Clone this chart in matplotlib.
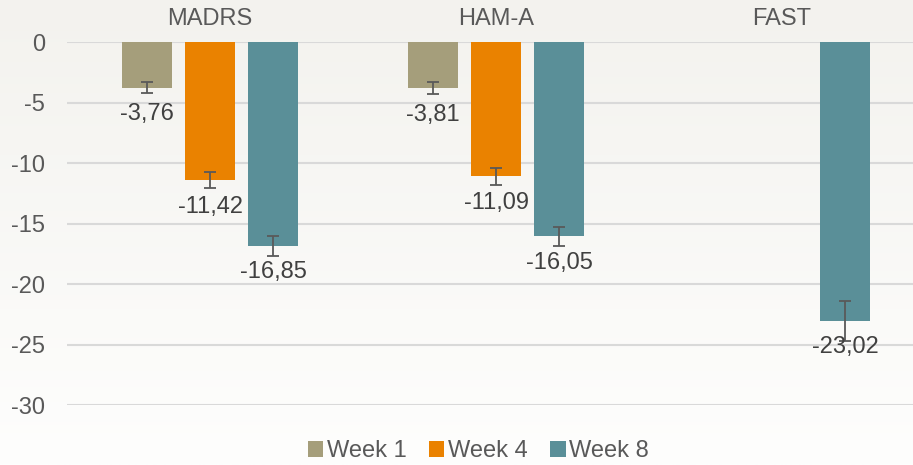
import numpy as np
import matplotlib.pyplot as plt

plt.rcParams['font.family'] = ['Liberation Sans', 'DejaVu Sans']
plt.rcParams['axes.unicode_minus'] = False

scales = ["MADRS", "HAM-A", "FAST"]
weeks = ["Week 1", "Week 4", "Week 8"]
# change from baseline, nan where not measured
means = {
    "Week 1": [-3.76, -3.81, np.nan],
    "Week 4": [-11.42, -11.09, np.nan],
    "Week 8": [-16.85, -16.05, -23.02],
}
errors = {
    "Week 1": [0.45, 0.5, np.nan],
    "Week 4": [0.65, 0.7, np.nan],
    "Week 8": [0.8, 0.8, 1.65],
}
colors = ["#a59e7b", "#ea8200", "#5a8f98"]

fig = plt.figure(figsize=(9.13, 4.65), dpi=100)

# soft background gradient, greyish at top to white at bottom
bg = fig.add_axes([0, 0, 1, 1], zorder=-10)
grad = np.linspace(0, 1, 256).reshape(-1, 1)
top = np.array([243, 242, 238]) / 255
bottom = np.array([254, 254, 253]) / 255
img = top + (bottom - top) * grad[..., None]
bg.imshow(np.repeat(img, 2, axis=1), aspect="auto", extent=[0, 1, 0, 1])
bg.axis("off")

ax = fig.add_axes([0.0734, 0.129, 0.9398, 0.7806])
ax.patch.set_alpha(0)

x = np.arange(len(scales))
width = 0.175
step = 0.22
for i, wk in enumerate(weeks):
    pos = x + (i - 1) * step
    vals = np.array(means[wk])
    errs = np.array(errors[wk])
    ax.bar(pos, vals, width, color=colors[i], label=wk, zorder=2)
    ax.errorbar(pos, vals, yerr=errs, fmt="none", ecolor="#595959",
                elinewidth=1.3, capsize=4.5, capthick=1.3, zorder=3)
    for p, v in zip(pos, vals):
        if np.isnan(v):
            continue
        ax.annotate(f"{v:.2f}".replace(".", ","), (p, v), xytext=(0, -19),
                    textcoords="offset points", ha="center", va="center",
                    fontsize=17, color="#404040", zorder=4)

ax.set_ylim(-30, 0)
ax.set_xlim(-0.5, 2.5)
ax.set_yticks(np.arange(-30, 1, 5))
ax.yaxis.grid(True, color="#d9d9d9", linewidth=1.5, zorder=0)
ax.set_axisbelow(True)
ax.xaxis.tick_top()
ax.set_xticks(x)
ax.set_xticklabels(scales)
ax.tick_params(axis="x", length=0, pad=9, labelsize=17, labelcolor="#595959")
ax.tick_params(axis="y", length=0, pad=16, labelsize=17, labelcolor="#595959")
for s in ax.spines.values():
    s.set_visible(False)

fig.legend(loc="center", bbox_to_anchor=(0.524, 0.03), ncol=3, frameon=False,
           fontsize=17, labelcolor="#595959", handlelength=0.65, handleheight=0.65,
           handletextpad=0.15, columnspacing=0.95, borderpad=0.1)

fig.savefig("out.png", dpi=100)
